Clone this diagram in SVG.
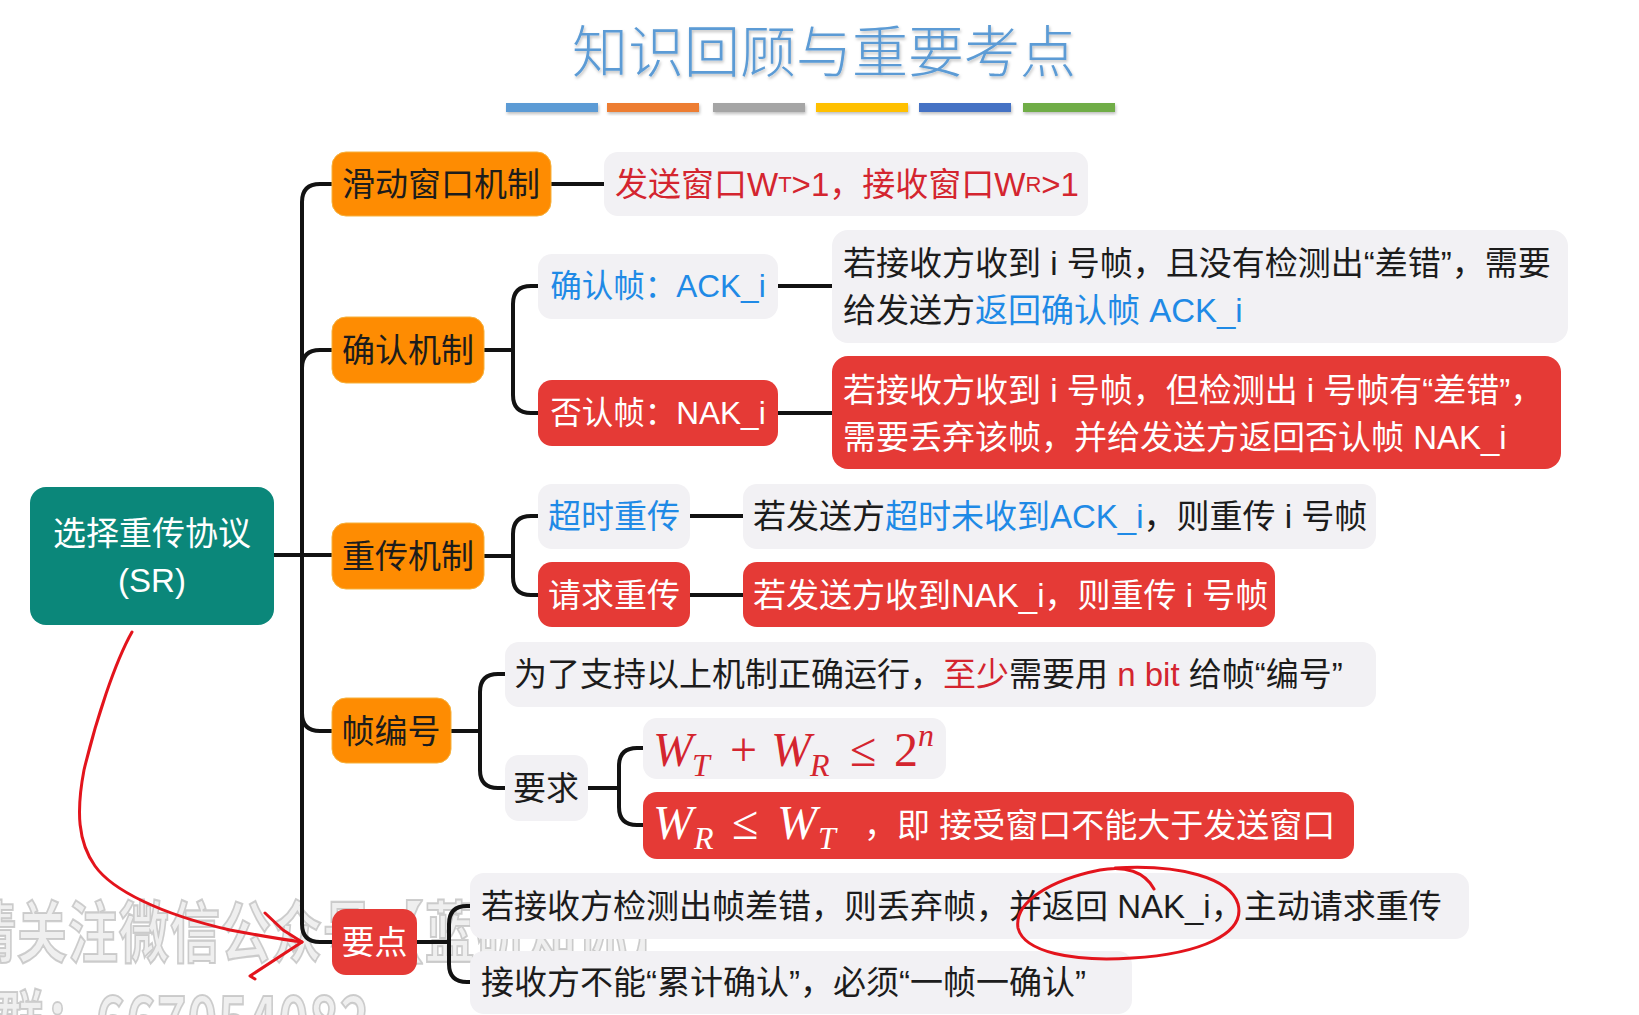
<svg xmlns="http://www.w3.org/2000/svg" width="1639" height="1015" viewBox="0 0 1639 1015">
<defs>
<style>
.t{font-family:"Liberation Sans","Noto Sans CJK SC",sans-serif;font-size:33px;dominant-baseline:central}
.k{fill:#1c1c1c}.w{fill:#ffffff}.b{fill:#1f8ae6}.r{fill:#d4252f}
.m{font-family:"Liberation Serif","DejaVu Serif",serif;font-style:italic;font-size:48px}
.conn{fill:none;stroke:#121212;stroke-width:4;stroke-linecap:round;stroke-linejoin:round}
.or{fill:#fe8c02;stroke:#f6b13c;stroke-width:1}
.rd{fill:#e53a36}
.gy{fill:#f2f1f4}
.ann{fill:none;stroke:#e3141c;stroke-width:3;stroke-linecap:round;stroke-linejoin:round}
.wm{font-family:"Noto Sans CJK SC",sans-serif;font-weight:bold;font-size:50px;letter-spacing:1px;fill:#e4e4e4;fill-opacity:0.6;stroke:#bdbdbd;stroke-width:1.6;stroke-opacity:0.75}
</style>
<filter id="sh" x="-5%" y="-20%" width="110%" height="160%">
<feDropShadow dx="1" dy="2" stdDeviation="1.5" flood-color="#000" flood-opacity="0.25"/>
</filter>
</defs>
<rect width="1639" height="1015" fill="#ffffff"/>

<g id="watermark">
<text class="wm" transform="translate(-34,957) scale(1,1.35)">请关注微信公众号【蓝研知你】</text>
<text class="wm" transform="translate(-57,1046) scale(1,1.35)">加群：667054082</text>
</g>

<g id="title">
<text x="824" y="47" text-anchor="middle" filter="url(#sh)" style="font-family:'Noto Sans CJK SC',sans-serif;font-weight:300;font-size:56px;dominant-baseline:central;fill:#5b9bd5">知识回顾与重要考点</text>
<g filter="url(#sh)">
<rect x="506" y="103" width="92" height="9" fill="#5b9bd5"/>
<rect x="607" y="103" width="92" height="9" fill="#ed7d31"/>
<rect x="713" y="103" width="92" height="9" fill="#a5a5a5"/>
<rect x="816" y="103" width="92" height="9" fill="#ffc000"/>
<rect x="919" y="103" width="92" height="9" fill="#4472c4"/>
<rect x="1023" y="103" width="92" height="9" fill="#70ad47"/>
</g>
</g>

<g id="connectors">
<path class="conn" d="M274 555 L332 555"/>
<path class="conn" d="M302 202 Q302 184 320 184 L332 184 M302 202 L302 924 Q302 942 320 942 L332 942"/>
<path class="conn" d="M302 368 Q302 350 320 350 L332 350"/>
<path class="conn" d="M302 713 Q302 731 320 731 L332 731"/>
<path class="conn" d="M551 184 L604 184"/>
<path class="conn" d="M484 350 L513 350 M538 286 L531 286 Q513 286 513 304 L513 395 Q513 413 531 413 L538 413"/>
<path class="conn" d="M778 286 L832 286 M778 413 L832 413"/>
<path class="conn" d="M484 556 L513 556 M538 516 L531 516 Q513 516 513 534 L513 577 Q513 595 531 595 L538 595"/>
<path class="conn" d="M690 516 L743 516 M690 595 L743 595"/>
<path class="conn" d="M451 731 L480 731 M505 674 L498 674 Q480 674 480 692 L480 770 Q480 788 498 788 L505 788"/>
<path class="conn" d="M588 788 L619 788 M643 748 L637 748 Q619 748 619 766 L619 807 Q619 825 637 825 L643 825"/>
<path class="conn" d="M417 942 L449 942 M470 906 L467 906 Q449 906 449 924 L449 964 Q449 982 467 982 L470 982"/>
</g>

<g id="root">
<rect x="30" y="487" width="244" height="138" rx="16" fill="#0b877a"/>
<text class="t w" x="152" y="533" text-anchor="middle">选择重传协议</text>
<text class="t w" x="152" y="580" text-anchor="middle">(SR)</text>
</g>

<g id="n-sliding">
<rect class="or" x="332" y="152" width="219" height="64" rx="14"/>
<text class="t k" x="441" y="184" text-anchor="middle">滑动窗口机制</text>
</g>
<g id="n-sliding-detail">
<rect class="gy" x="604" y="152" width="484" height="64" rx="14"/>
<text class="t r" x="615" y="184">发送窗口W<tspan style="font-size:22px">T</tspan>&gt;1，接收窗口W<tspan style="font-size:22px">R</tspan>&gt;1</text>
</g>

<g id="n-ack-mech">
<rect class="or" x="332" y="317" width="152" height="66" rx="14"/>
<text class="t k" x="408" y="350" text-anchor="middle">确认机制</text>
</g>
<g id="n-ack">
<rect class="gy" x="538" y="254" width="240" height="65" rx="14"/>
<text class="t b" x="658" y="286" text-anchor="middle" style="font-size:31.5px">确认帧：ACK_i</text>
</g>
<g id="n-nak">
<rect class="rd" x="538" y="380" width="240" height="66" rx="14"/>
<text class="t w" x="658" y="413" text-anchor="middle" style="font-size:31.5px">否认帧：NAK_i</text>
</g>
<g id="n-ack-detail">
<rect class="gy" x="832" y="230" width="736" height="113" rx="16"/>
<text class="t k" x="843" y="263">若接收方收到 i 号帧，且没有检测出“差错”，需要</text>
<text class="t k" x="843" y="310">给发送方<tspan class="b">返回确认帧 ACK_i</tspan></text>
</g>
<g id="n-nak-detail">
<rect class="rd" x="832" y="356" width="729" height="113" rx="16"/>
<text class="t w" x="843" y="390">若接收方收到 i 号帧，但检测出 i 号帧有“差错”，</text>
<text class="t w" x="843" y="437">需要丢弃该帧，并给发送方返回否认帧 NAK_i</text>
</g>

<g id="n-retrans">
<rect class="or" x="332" y="523" width="152" height="66" rx="14"/>
<text class="t k" x="408" y="556" text-anchor="middle">重传机制</text>
</g>
<g id="n-timeout">
<rect class="gy" x="538" y="484" width="152" height="65" rx="14"/>
<text class="t b" x="614" y="516" text-anchor="middle">超时重传</text>
</g>
<g id="n-request">
<rect class="rd" x="538" y="562" width="152" height="65" rx="14"/>
<text class="t w" x="614" y="595" text-anchor="middle">请求重传</text>
</g>
<g id="n-timeout-detail">
<rect class="gy" x="743" y="484" width="633" height="65" rx="14"/>
<text class="t k" x="753" y="516">若发送方<tspan class="b">超时未收到ACK_i</tspan>，则重传 i 号帧</text>
</g>
<g id="n-request-detail">
<rect class="rd" x="743" y="562" width="532" height="65" rx="14"/>
<text class="t w" x="753" y="595">若发送方收到NAK_i，则重传 i 号帧</text>
</g>

<g id="n-seq">
<rect class="or" x="332" y="698" width="119" height="65" rx="14"/>
<text class="t k" x="391" y="731" text-anchor="middle">帧编号</text>
</g>
<g id="n-seq-detail">
<rect class="gy" x="505" y="642" width="871" height="65" rx="14"/>
<text class="t k" x="514" y="674">为了支持以上机制正确运行，<tspan class="r">至少</tspan>需要用 <tspan class="r">n bit</tspan> 给帧“编号”</text>
</g>
<g id="n-req">
<rect class="gy" x="505" y="755" width="83" height="66" rx="14"/>
<text class="t k" x="546" y="788" text-anchor="middle">要求</text>
</g>
<g id="n-formula1">
<rect class="gy" x="643" y="718" width="303" height="61" rx="14"/>
<text class="m" y="766" fill="#d4252f"><tspan x="653">W</tspan><tspan x="692" y="776" style="font-size:32px">T</tspan><tspan x="730" y="766" style="font-style:normal">+</tspan><tspan x="771">W</tspan><tspan x="810" y="776" style="font-size:32px">R</tspan><tspan x="850" y="766" style="font-style:normal">≤</tspan><tspan x="894" style="font-style:normal">2</tspan><tspan x="918" y="746" style="font-size:32px">n</tspan></text>
</g>
<g id="n-formula2">
<rect class="rd" x="643" y="792" width="711" height="67" rx="14"/>
<text class="m" y="839" fill="#ffffff"><tspan x="653">W</tspan><tspan x="694" y="849" style="font-size:32px">R</tspan><tspan x="732" y="839" style="font-style:normal">≤</tspan><tspan x="777">W</tspan><tspan x="818" y="849" style="font-size:32px">T</tspan></text>
<text class="t w" x="864" y="825">，即 接受窗口不能大于发送窗口</text>
</g>

<g id="n-keypoints">
<rect class="rd" x="332" y="909" width="85" height="66" rx="14"/>
<text class="t w" x="374.5" y="942" text-anchor="middle">要点</text>
</g>
<g id="n-key1">
<rect class="gy" x="470" y="873" width="999" height="66" rx="14"/>
<text class="t k" x="481" y="906">若接收方检测出帧差错，则丢弃帧，并返回 NAK_i，主动请求重传</text>
</g>
<g id="n-key2">
<rect class="gy" x="470" y="951" width="662" height="63" rx="14"/>
<text class="t k" x="481" y="982">接收方不能“累计确认”，必须“一帧一确认”</text>
</g>

<g id="annotations">
<path class="ann" d="M132 632 C115 662 96 720 84 770 C76 812 78 842 95 866 C112 890 160 914 230 930 C262 936 286 940 302 942"/>
<path class="ann" d="M265 913 L283 930 L302 942 L250 976 L255 979"/>
<path class="ann" d="M1154 889 C1145 872 1125 865 1100 870 C1050 880 1014 902 1018 928 C1024 952 1072 962 1132 958 C1200 954 1246 934 1238 904 C1230 878 1180 864 1115 868"/>
</g>
</svg>
